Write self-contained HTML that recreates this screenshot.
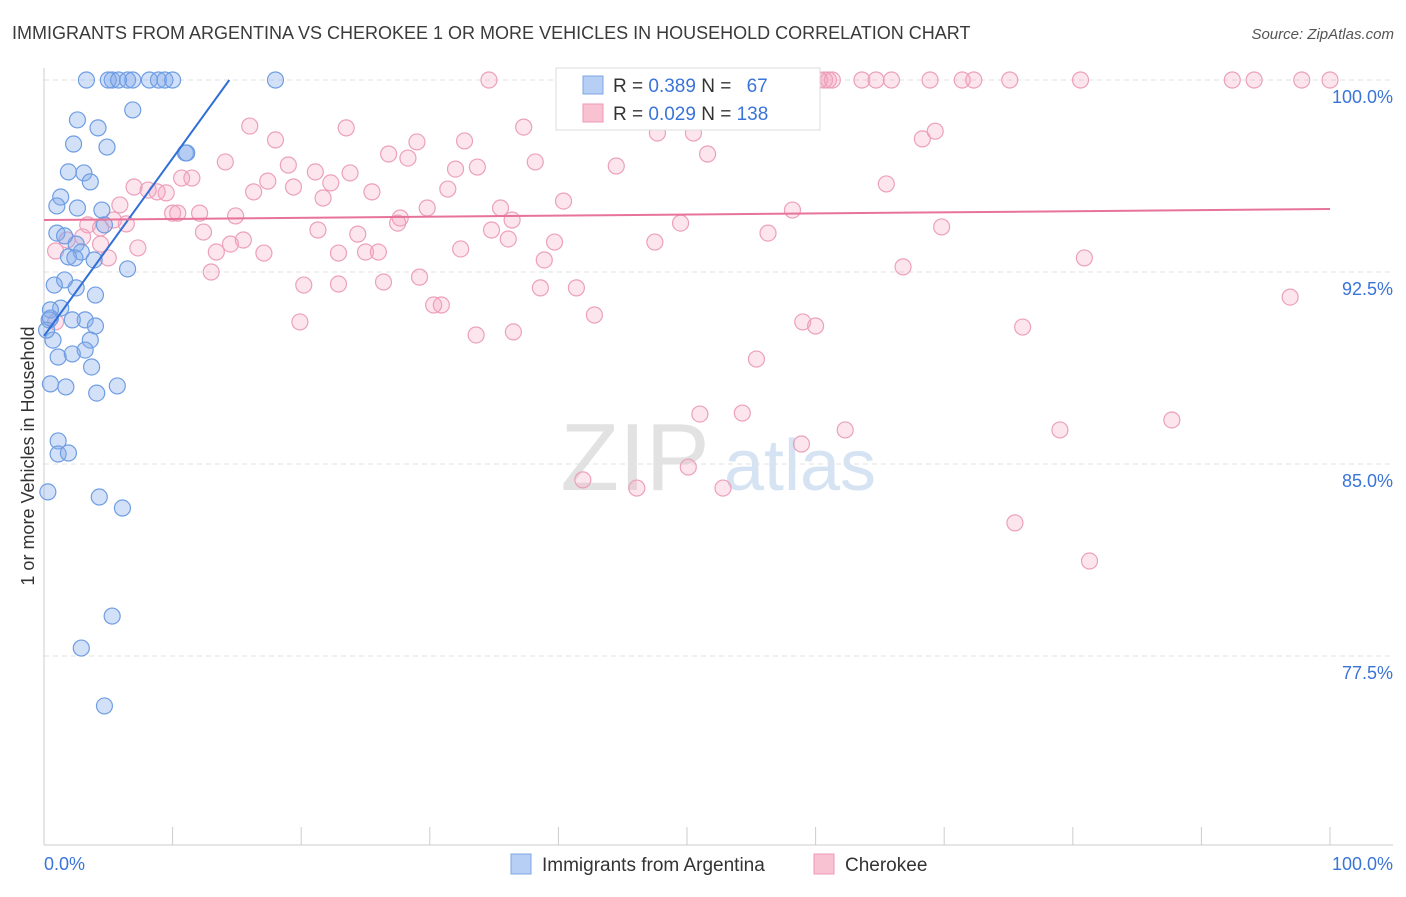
<!DOCTYPE html>
<html><head><meta charset="utf-8"><style>
body{margin:0;background:#fff;font-family:"Liberation Sans",sans-serif;}
svg text{font-family:"Liberation Sans",sans-serif;}
</style></head><body>
<svg id="chart" width="1406" height="892" viewBox="0 0 1406 892" xmlns="http://www.w3.org/2000/svg">
<text x="12" y="39" font-size="18" fill="#3a3a3a">IMMIGRANTS FROM ARGENTINA VS CHEROKEE 1 OR MORE VEHICLES IN HOUSEHOLD CORRELATION CHART</text>
<text x="1394" y="39" font-size="15" fill="#555" text-anchor="end" font-style="italic">Source: ZipAtlas.com</text>
<g>
<text x="635" y="490" font-size="96" fill="#e2e2e2" font-family="Liberation Serif" text-anchor="middle">ZIP</text>
<text x="800" y="490" font-size="72" fill="#d6e3f3" text-anchor="middle">atlas</text>
</g>
<g id="grid"></g>
<g id="axes"></g>
<g id="series"></g>
<text transform="translate(34,456) rotate(-90)" font-size="18" fill="#333" text-anchor="middle">1 or more Vehicles in Household</text>
<g>
<rect x="556" y="68" width="264" height="62" fill="#fff" stroke="#ddd"/>
<rect x="583" y="76" width="20" height="18" fill="#b7cff5" stroke="#7ea6e6"/>
<rect x="583" y="104" width="20" height="18" fill="#f8c2d3" stroke="#ee9ab7"/>
<text x="613" y="92" font-size="19" fill="#333">R = <tspan fill="#3a74d8">0.389</tspan>   N = <tspan fill="#3a74d8" dx="10">67</tspan></text>
<text x="613" y="120" font-size="19" fill="#333">R = <tspan fill="#3a74d8">0.029</tspan>   N = <tspan fill="#3a74d8">138</tspan></text>
</g>
<g>
<rect x="511" y="854" width="20" height="20" fill="#b7cff5" stroke="#7ea6e6"/>
<text x="542" y="871" font-size="19" fill="#333">Immigrants from Argentina</text>
<rect x="814" y="854" width="20" height="20" fill="#f8c2d3" stroke="#ee9ab7"/>
<text x="845" y="871" font-size="19" fill="#333">Cherokee</text>
</g>
</svg>
<script>
const blueX=[3.3,5.3,5.0,5.8,6.5,6.9,8.2,8.9,9.4,10.0,18.0,6.9,2.6,4.2,4.9,2.3,11.0,1.9,3.1,3.6,1.3,1.0,2.6,4.5,4.7,1.0,1.6,2.5,2.9,1.9,2.4,3.9,6.5,1.6,0.8,2.5,4.0,1.3,0.5,3.2,2.2,0.4,4.0,0.7,3.6,3.2,1.1,2.2,3.7,0.5,1.7,5.7,4.1,1.1,1.1,1.9,0.3,4.3,6.1,5.3,2.9,4.7,0.2,0.5,11.1];
const blueY=[100,100,100,100,100,100,100,100,100,100,100,98.83,98.44,98.13,97.38,97.5,97.15,96.41,96.37,96.02,95.43,95.08,95.0,94.92,94.34,94.02,93.91,93.59,93.28,93.09,93.05,92.97,92.62,92.19,91.99,91.88,91.6,91.09,91.02,90.63,90.63,90.63,90.39,89.84,89.84,89.45,89.18,89.3,88.79,88.13,88.01,88.05,87.77,85.9,85.39,85.43,83.91,83.71,83.28,79.06,77.81,75.55,90.23,90.7,97.15];
const pinkX=[34.6,47.0,52.3,60.7,61.0,63.6,64.7,65.9,68.9,71.4,72.3,75.1,80.6,92.4,94.1,97.8,100,60.3,61.3,16.0,18.0,23.5,29.0,32.7,37.3,47.7,50.5,69.3,68.3,14.1,19.0,21.1,23.8,26.8,28.3,32.0,33.7,38.2,44.5,51.6,17.4,10.7,11.5,7.0,8.1,8.8,9.5,16.3,19.4,21.7,22.3,25.5,31.4,40.4,65.5,5.9,10.0,10.4,12.1,14.9,29.8,35.5,36.4,58.2,5.4,3.4,6.4,4.4,12.4,21.3,24.4,27.7,27.5,34.8,36.1,39.7,47.5,49.5,56.3,69.8,0.9,1.8,3.0,4.4,7.3,5.0,13.4,14.5,15.5,17.1,22.9,25.0,26.0,32.4,38.9,66.8,80.9,13.0,20.2,22.9,26.4,29.2,38.6,41.4,96.9,30.3,30.9,19.9,33.6,36.5,42.8,59.0,60.0,76.1,0.9,55.4,51.0,54.3,58.9,62.3,79.0,87.7,41.9,46.1,50.1,52.8,75.5,81.3];
const pinkY=[100,100,100,100,100,100,100,100,100,100,100,100,100,100,100,100,100,100,100,98.2,97.66,98.13,97.58,97.62,98.16,97.93,97.93,98.0,97.7,96.8,96.68,96.41,96.37,97.11,96.95,96.52,96.6,96.8,96.64,97.11,96.05,96.17,96.17,95.82,95.7,95.63,95.59,95.63,95.82,95.39,95.98,95.63,95.74,95.27,95.94,95.12,94.8,94.8,94.8,94.69,95.0,95.0,94.53,94.92,94.53,94.34,94.38,94.22,94.06,94.14,93.98,94.61,94.41,94.14,93.79,93.67,93.67,94.41,94.02,94.26,93.32,93.75,93.87,93.59,93.44,93.05,93.28,93.59,93.75,93.24,93.24,93.28,93.28,93.4,92.97,92.7,93.05,92.5,91.99,92.03,92.11,92.3,91.88,91.88,91.52,91.21,91.21,90.55,90.04,90.16,90.82,90.55,90.39,90.35,90.55,89.1,86.95,86.99,85.78,86.33,86.33,86.72,84.38,84.06,84.88,84.06,82.7,81.21];
const yTicks=[100,92.5,85,77.5];
const yTickLabels=["100.0%","92.5%","85.0%","77.5%"];
const xTicks=[0,10,20,30,40,50,60,70,80,90,100];
const blueTrend=[90.0,0.694]; // intercept, slope
const pinkTrend=[94.53,0.0043];
const X0=44,X1=1330,YTOP=80,PPU=25.6;
const sx=v=>X0+(X1-X0)*v/100;
const sy=v=>YTOP+(100-v)*PPU;
const NS="http://www.w3.org/2000/svg";
function mk(tag,attrs,parent){const e=document.createElementNS(NS,tag);for(const k in attrs)e.setAttribute(k,attrs[k]);parent.appendChild(e);return e;}
const grid=document.getElementById('grid'),axes=document.getElementById('axes'),series=document.getElementById('series');
yTicks.forEach((t,i)=>{
 const l=mk('line',{x1:44,x2:1393,y1:sy(t),y2:sy(t),stroke:'#e0e0e0','stroke-dasharray':'5,4'},grid);
 
 
 const tx=mk('text',{x:1393,y:sy(t)+23,'font-size':18,fill:'#3a74d8','text-anchor':'end'},axes);
 tx.textContent=yTickLabels[i];
 
 
});
mk('line',{x1:44,x2:44,y1:68,y2:845,stroke:'#ccc'},axes);
mk('line',{x1:44,x2:1393,y1:845,y2:845,stroke:'#ccc'},axes);
xTicks.forEach(t=>{
 const l=mk('line',{x1:sx(t),x2:sx(t),y1:827,y2:845,stroke:'#ccc'},axes);
 
 
});
const xl0=mk('text',{x:44,y:870,'font-size':18,fill:'#3a74d8'},axes);xl0.textContent='0.0%';


const xl1=mk('text',{x:1393,y:870,'font-size':18,fill:'#3a74d8','text-anchor':'end'},axes);xl1.textContent='100.0%';


pinkX.forEach((x,i)=>{
 const c=mk('circle',{cx:sx(x),cy:sy(pinkY[i]),r:8,fill:'rgba(243,160,190,0.28)',stroke:'#eca0bb','stroke-width':1.2},series);
 
 
});
blueX.forEach((x,i)=>{
 const c=mk('circle',{cx:sx(x),cy:sy(blueY[i]),r:8,fill:'rgba(130,170,235,0.35)',stroke:'#6f9de2','stroke-width':1.2},series);
 
 
});
const bx1=(100-blueTrend[0])/blueTrend[1];
const bl=mk('line',{x1:sx(0),y1:sy(blueTrend[0]),x2:sx(bx1),y2:sy(100),stroke:'#2f6fd6','stroke-width':2},series);


const pl=mk('line',{x1:sx(0),y1:sy(pinkTrend[0]),x2:sx(100),y2:sy(pinkTrend[0]+100*pinkTrend[1]),stroke:'#e8739a','stroke-width':2},series);


</script>
</body></html>
